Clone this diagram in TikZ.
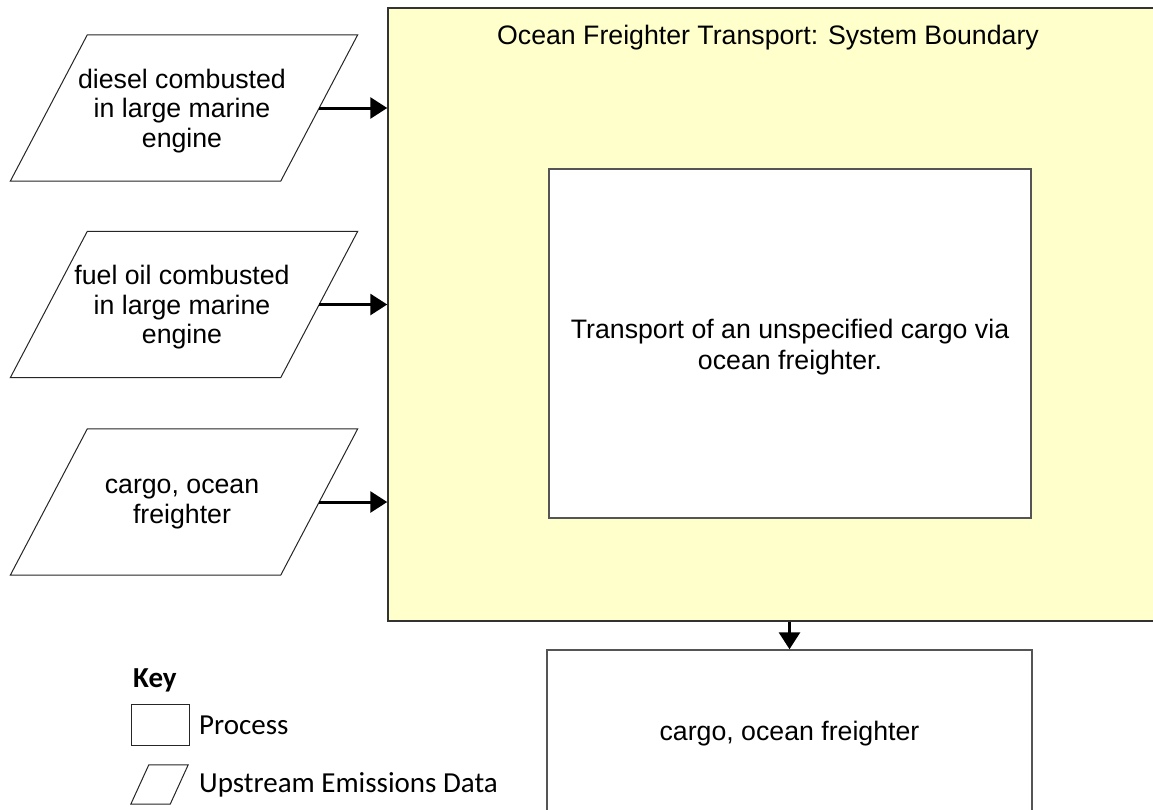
\documentclass[tikz,border=0pt]{standalone}
\usepackage{fontspec}
\setmainfont{Liberation Sans}
\newfontfamily\keyfont{Carlito}
\usetikzlibrary{arrows.meta,calc}
\definecolor{bndfill}{HTML}{FFFFCC}
\definecolor{bndline}{HTML}{333333}
\definecolor{boxline}{HTML}{555555}
\begin{document}
\begin{tikzpicture}[x=1pt,y=-1pt,
  txt/.style={font=\fontsize{26.7}{31.5}\selectfont, align=center, inner sep=0pt},
  paranode/.style={txt, font=\fontsize{26.7}{29.5}\selectfont, minimum width=270pt, minimum height=146pt},
  pline/.style={draw=black!85, line width=1pt},
  procbox/.style={txt, draw=boxline, line width=1.5pt, fill=white},
  arr/.style={line width=3pt, -{Triangle[length=17pt,width=21pt]}},
  keytxt/.style={font=\keyfont\fontsize{29}{34}\selectfont, inner sep=0pt, anchor=west}
]
\useasboundingbox (0,0) rectangle (1153,809);
\clip (0,0) rectangle (1153,809);
\fill[white] (0,0) rectangle (1153,809);

% system boundary
\node[draw=bndline, line width=1.5pt, fill=bndfill, minimum width=782pt, minimum height=613pt, inner sep=0pt] (bnd) at (779,314.5) {};
\node[txt] (title) at (768,38) {Ocean Freighter Transport: System Boundary};

% inner process
\node[draw=boxline, line width=1.5pt, fill=white, minimum width=482pt, minimum height=349pt, inner sep=0pt] (proc) at (790,343.5) {};
\node[txt] (proct) at (790,347) {Transport of an unspecified cargo via\\ocean freighter.};

% output process
\node[procbox, minimum width=485pt, minimum height=168pt] (out) at (789.5,734) {cargo, ocean freighter};

% upstream parallelograms
\newcommand\drawpara[2]{%
  \draw[pline] ([xshift=#2]#1.north west) -- ([xshift=#2]#1.north east)
     -- ([xshift=-#2]#1.south east) -- ([xshift=-#2]#1.south west) -- cycle;}

\node[paranode] (p1) at (184,108) {};
\drawpara{p1}{38.5pt}
\node[paranode] (p1t) at (182,111) {diesel combusted\\in large marine\\engine};
\node[paranode] (p2) at (184,304.5) {};
\drawpara{p2}{38.5pt}
\node[paranode] (p2t) at (182,307.5) {fuel oil combusted\\in large marine\\engine};
\node[paranode] (p3) at (184,502) {};
\drawpara{p3}{38.5pt}
\node[paranode] (p3t) at (182,504) {cargo, ocean\\freighter};

% connectors
\draw[arr] (p1.east) -- (p1.east -| bnd.west);
\draw[arr] (p2.east) -- (p2.east -| bnd.west);
\draw[arr] (p3.east) -- (p3.east -| bnd.west);
\draw[arr] (out.north |- bnd.south) -- (out.north);

% key
\node[keytxt, font=\keyfont\bfseries\fontsize{29}{34}\selectfont] (key) at (133,680) {Key};
\node[draw=black!85, line width=1pt, minimum width=58pt, minimum height=41pt, inner sep=0pt] (kproc) at (160,724.5) {};
\node[keytxt] (kproct) at (199,725) {Process};
\node[inner sep=0pt, minimum width=39pt, minimum height=39pt] (kpara) at (159.5,784.5) {};
\drawpara{kpara}{9pt}
\node[keytxt] (kparat) at (199,785) {Upstream Emissions Data};
\end{tikzpicture}
\end{document}
